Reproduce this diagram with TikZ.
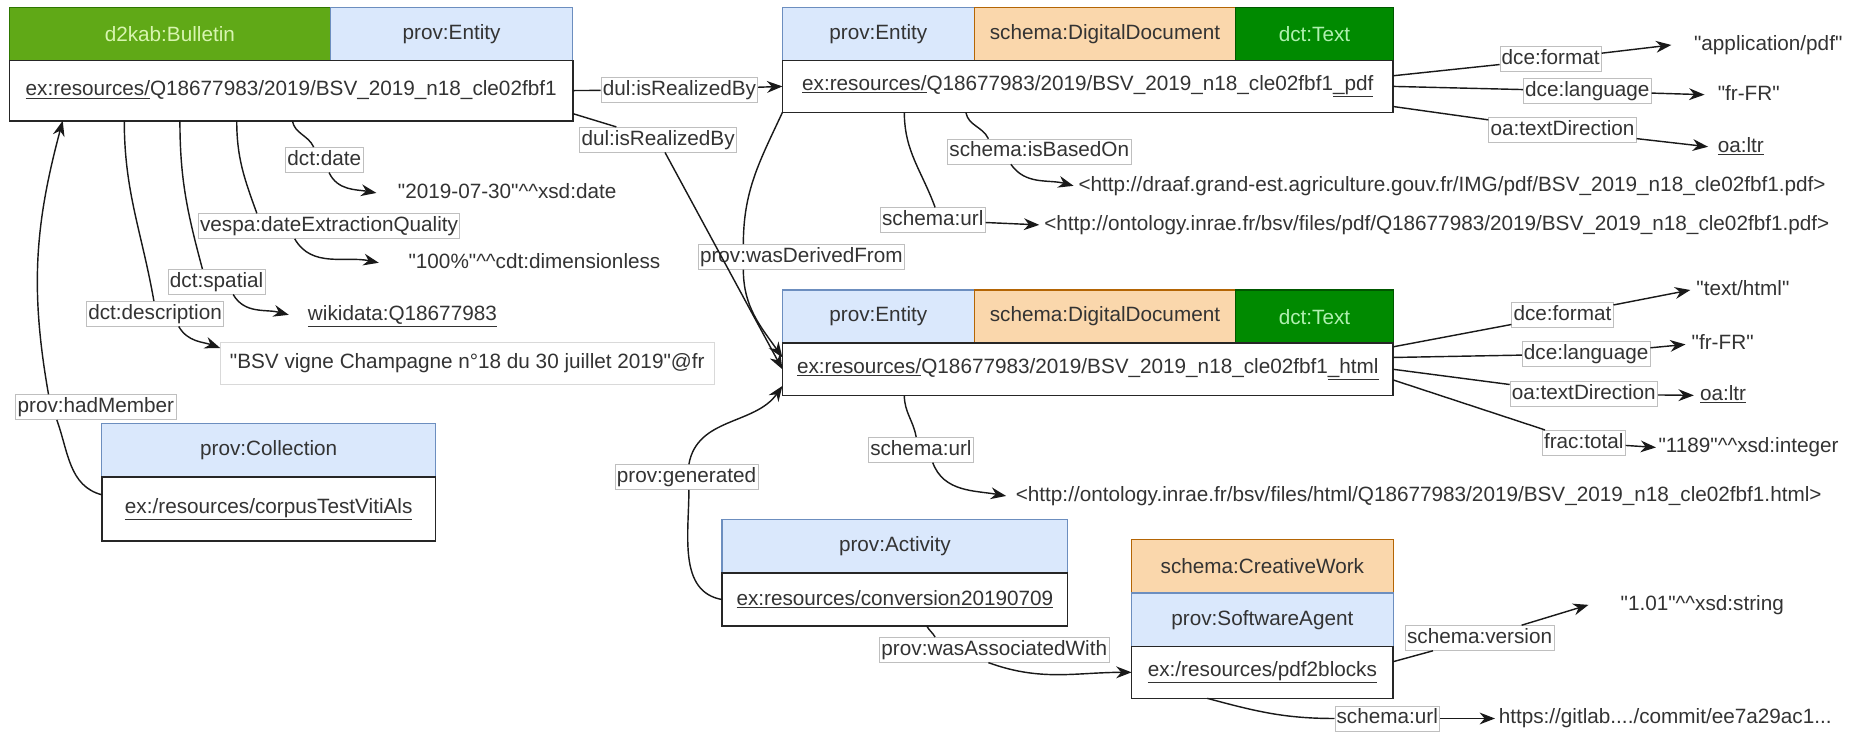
\documentclass[tikz,border=0pt]{standalone}
\usepackage{fontspec}
\setmainfont{Liberation Sans}[Ligatures=TeXOff]
\usepackage{tikz}
\usetikzlibrary{arrows.meta,positioning}
\definecolor{provfill}{HTML}{DAE8FC}
\definecolor{provline}{HTML}{6C8EBF}
\definecolor{schemafill}{HTML}{FAD7AC}
\definecolor{schemaline}{HTML}{B46504}
\definecolor{bulfill}{HTML}{60A917}
\definecolor{bulline}{HTML}{2D7600}
\definecolor{bultext}{HTML}{D8F5B0}
\definecolor{textfill}{HTML}{008A00}
\definecolor{textline}{HTML}{005700}
\definecolor{dcttext}{HTML}{B0F0B0}
\definecolor{ink}{HTML}{333333}
\newcommand{\dfont}{\fontsize{17.5}{21}\selectfont}
\newcommand{\dt}{\textasciicircum\textasciicircum}
\tikzset{>={Stealth[width=10pt,length=13pt]}}
\tikzset{every node/.style={font=\dfont, text=ink}}
\tikzset{cell/.style={draw, line width=1pt, inner sep=0pt, outer sep=0pt, minimum height=45pt}}
\tikzset{prov/.style={cell, fill=provfill, draw=provline}}
\tikzset{schema/.style={cell, fill=schemafill, draw=schemaline}}
\tikzset{bulletin/.style={cell, fill=bulfill, draw=bulline, text=bultext}}
\tikzset{dctext/.style={cell, fill=textfill, draw=textline, text=dcttext}}
\tikzset{body/.style={cell, fill=white, draw=black!85, line width=1.3pt, anchor=north west}}
\tikzset{lbl/.style={draw=black!25, fill=white, line width=0.6pt, inner xsep=1.5pt, inner ysep=2.5pt,
    text height=12.5pt, text depth=3.5pt}}
\tikzset{lit/.style={anchor=west, inner ysep=3pt, text height=12.5pt, text depth=3.5pt}}
\tikzset{rel/.style={line width=1.2pt, draw=black!90}}

\begin{document}
\begin{tikzpicture}[x=1pt, y=1pt]
    \useasboundingbox (0,0) rectangle (1568,-618);

    % bulletin
    \node(bulT)[bulletin, minimum width=271pt, anchor=north west] at (8,-6) {d2kab:Bulletin};
    \node(bulE)[prov, minimum width=205pt, right=0pt of bulT]            {prov:Entity};
    \node(bul)[body, minimum width=476pt, minimum height=51pt] at (bulT.south west)
        {\underline{ex:resources/}Q18677983/2019/BSV\_2019\_n18\_cle02fbf1};

    % pdf document
    \node(pdfE)[prov, minimum width=162pt, anchor=north west] at (661,-6) {prov:Entity};
    \node(pdfS)[schema, minimum width=221pt, right=0pt of pdfE]         {schema:DigitalDocument};
    \node(pdfT)[dctext, minimum width=133pt, right=0pt of pdfS]         {dct:Text};
    \node(pdf)[body, minimum width=516pt, minimum height=44pt] at (pdfE.south west)
        {\underline{ex:resources/}Q18677983/2019/BSV\_2019\_n18\_cle02fbf1\underline{\_pdf}};

    % html document
    \node(htmlE)[prov, minimum width=162pt, anchor=north west] at (661,-245) {prov:Entity};
    \node(htmlS)[schema, minimum width=221pt, right=0pt of htmlE]          {schema:DigitalDocument};
    \node(htmlT)[dctext, minimum width=133pt, right=0pt of htmlS]          {dct:Text};
    \node(html)[body, minimum width=516pt, minimum height=44pt] at (htmlE.south west)
        {\underline{ex:resources/}Q18677983/2019/BSV\_2019\_n18\_cle02fbf1\underline{\_html}};

    % collection, activity, agent
    \node(collT)[prov, minimum width=282pt, anchor=north west] at (86,-358) {prov:Collection};
    \node(coll)[body, minimum width=282pt, minimum height=54pt] at (collT.south west)
        {\underline{ex:/resources/corpusTestVitiAls}};
    \node(actT)[prov, minimum width=292pt, anchor=north west] at (610,-439) {prov:Activity};
    \node(act)[body, minimum width=292pt, minimum height=45pt] at (actT.south west)
        {\underline{ex:resources/conversion20190709}};
    \node(swC)[schema, minimum width=221pt, anchor=north west] at (956,-456) {schema:CreativeWork};
    \node(swA)[prov, minimum width=221pt, below=0pt of swC]               {prov:SoftwareAgent};
    \node(sw)[body, minimum width=221pt, minimum height=44pt] at (swA.south west)
        {\underline{ex:/resources/pdf2blocks}};

    % literals
    \node(litDate)[lit, inner xsep=18pt] at (318,-163)   {"2019-07-30"\dt xsd:date};
    \node(litQual)[lit, inner xsep=25pt] at (320,-222)   {"100\%"\dt cdt:dimensionless};
    \node(litWiki)[lit, inner xsep=16pt] at (244,-266)   {\underline{wikidata:Q18677983}};
    \node(desc)[draw=black!15, fill=white, line width=0.6pt, anchor=north west, inner sep=0pt,
        minimum width=417pt, minimum height=35pt] at (186,-289)
        {"BSV vigne Champagne n°18 du 30 juillet 2019"@fr};
    \node(litBased)[lit, inner xsep=4pt] at (907,-157)
        {<http://draaf.grand-est.agriculture.gouv.fr/IMG/pdf/BSV\_2019\_n18\_cle02fbf1.pdf>};
    \node(litUrlPdf)[lit, inner xsep=4pt] at (878,-190)
        {<http://ontology.inrae.fr/bsv/files/pdf/Q18677983/2019/BSV\_2019\_n18\_cle02fbf1.pdf>};
    \node(litFmtPdf)[lit, inner xsep=19pt] at (1412,-38)  {"application/pdf"};
    \node(litLangPdf)[lit, inner xsep=11pt] at (1440,-80) {"fr-FR"};
    \node(litDirPdf)[lit, inner xsep=8pt] at (1443,-124)  {\underline{oa:ltr}};
    \node(litFmtHtml)[lit, inner xsep=5pt] at (1428,-245) {"text/html"};
    \node(litLangHtml)[lit, inner xsep=5pt] at (1424,-291) {"fr-FR"};
    \node(litDirHtml)[lit, inner xsep=5pt] at (1431,-334) {\underline{oa:ltr}};
    \node(litTotal)[lit, inner xsep=2pt] at (1399,-378)   {"1189"\dt xsd:integer};
    \node(litUrlHtml)[lit, inner xsep=8pt] at (850,-419)
        {<http://ontology.inrae.fr/bsv/files/html/Q18677983/2019/BSV\_2019\_n18\_cle02fbf1.html>};
    \node(litVersion)[lit, inner xsep=27pt] at (1342,-511) {"1.01"\dt xsd:string};
    \node(litUrlSw)[lit, inner xsep=3pt] at (1263,-607)   {https://gitlab..../commit/ee7a29ac1...};

    % edge labels
    \node(lReal1)[lbl] at (574,-76)     {dul:isRealizedBy};
    \node(lReal2)[lbl] at (556,-118)    {dul:isRealizedBy};
    \node(lDate)[lbl] at (274,-135)     {dct:date};
    \node(lQual)[lbl] at (278,-191)     {vespa:dateExtractionQuality};
    \node(lSpat)[lbl] at (183,-238)     {dct:spatial};
    \node(lDesc)[lbl] at (131,-265)     {dct:description};
    \node(lMember)[lbl] at (81,-344)    {prov:hadMember};
    \node(lBased)[lbl] at (878,-128)    {schema:isBasedOn};
    \node(lUrlPdf)[lbl] at (788,-186)   {schema:url};
    \node(lDeriv)[lbl] at (677,-217)    {prov:wasDerivedFrom};
    \node(lFmtPdf)[lbl] at (1310,-50)   {dce:format};
    \node(lLangPdf)[lbl] at (1341,-77)  {dce:language};
    \node(lDirPdf)[lbl] at (1320,-110)  {oa:textDirection};
    \node(lFmtHtml)[lbl] at (1320,-266) {dce:format};
    \node(lLangHtml)[lbl] at (1340,-299) {dce:language};
    \node(lDirHtml)[lbl] at (1338,-333) {oa:textDirection};
    \node(lTotal)[lbl] at (1338,-374)   {frac:total};
    \node(lUrlHtml)[lbl] at (778,-380)  {schema:url};
    \node(lGen)[lbl] at (580,-403)      {prov:generated};
    \node(lAssoc)[lbl] at (840,-549)    {prov:wasAssociatedWith};
    \node(lVersion)[lbl] at (1250,-539) {schema:version};
    \node(lUrlSw)[lbl] at (1172,-607)   {schema:url};

    % bulletin edges
    \draw [rel] (bul.east) -- (lReal1);
    \draw [rel,->] (lReal1) -- (pdf.west);
    \draw [rel] ([yshift=6pt]bul.south east) -- (lReal2);
    \draw [rel,->] (lReal2) -- (html.west);
    \draw [rel] ([xshift=239pt]bul.south west) to [out=-80,in=115] ([xshift=-9pt]lDate.north);
    \draw [rel,->] ([xshift=4pt]lDate.south) to [out=-65,in=170] (litDate.west);
    \draw [rel] ([xshift=192pt]bul.south west) to [out=-90,in=110] ([xshift=-61pt]lQual.north);
    \draw [rel,->] ([xshift=-29pt]lQual.south) to [out=-60,in=168] (litQual.west);
    \draw [rel] ([xshift=144pt]bul.south west) to [out=-90,in=105] ([xshift=-12pt]lSpat.north);
    \draw [rel,->] ([xshift=14pt]lSpat.south) to [out=-60,in=165] (litWiki.west);
    \draw [rel] ([xshift=97pt]bul.south west) to [out=-90,in=100] ([xshift=-1pt]lDesc.north);
    \draw [rel,->] ([xshift=20pt]lDesc.south) to [out=-60,in=160] ([yshift=-5pt]desc.north west);
    \draw [rel] ([yshift=12pt]coll.west) to [out=165,in=-70] ([xshift=-33pt]lMember.south);
    \draw [rel,->] ([xshift=-40pt]lMember.north) to [out=100,in=-105] ([xshift=45pt]bul.south west);

    % pdf edges
    \draw [rel] ([xshift=155pt]pdf.south west) to [out=-80,in=115] ([xshift=-43pt]lBased.north);
    \draw [rel,->] ([xshift=-24pt]lBased.south) to [out=-55,in=165] (litBased.west);
    \draw [rel] ([xshift=103pt]pdf.south west) to [out=-90,in=110] ([xshift=2pt]lUrlPdf.north);
    \draw [rel,->] (lUrlPdf) -- (litUrlPdf.west);
    \draw [rel] (pdf.south west) to [out=-115,in=90] ([xshift=-49pt]lDeriv.north);
    \draw [rel,->] ([xshift=-49pt]lDeriv.south) to [out=-90,in=125] ([yshift=10pt]html.west);
    \draw [rel] ([yshift=9pt]pdf.east) -- (lFmtPdf);
    \draw [rel,->] (lFmtPdf) -- (litFmtPdf.west);
    \draw [rel] (pdf.east) -- (lLangPdf);
    \draw [rel,->] (lLangPdf) -- (litLangPdf.west);
    \draw [rel] ([yshift=-17pt]pdf.east) -- (lDirPdf);
    \draw [rel,->] (lDirPdf) -- (litDirPdf.west);

    % html edges
    \draw [rel] ([yshift=19pt]html.east) -- (lFmtHtml);
    \draw [rel,->] (lFmtHtml) -- (litFmtHtml.west);
    \draw [rel] ([yshift=10pt]html.east) -- (lLangHtml);
    \draw [rel,->] (lLangHtml) -- (litLangHtml.west);
    \draw [rel] (html.east) -- (lDirHtml);
    \draw [rel,->] (lDirHtml) -- (litDirHtml.west);
    \draw [rel] ([yshift=-9pt]html.east) -- (lTotal);
    \draw [rel,->] (lTotal) -- (litTotal.west);
    \draw [rel] ([xshift=103pt]html.south west) to [out=-90,in=100] ([xshift=-4pt]lUrlHtml.north);
    \draw [rel,->] ([xshift=10pt]lUrlHtml.south) to [out=-70,in=170] (litUrlHtml.west);

    % activity and agent edges
    \draw [rel] (act.west) to [out=170,in=-90] ([xshift=2pt]lGen.south);
    \draw [rel,->] ([xshift=2pt]lGen.north) to [out=80,in=-125] ([yshift=-14pt]html.west);
    \draw [rel] ([xshift=173pt]act.south west) to [out=-60,in=120] ([xshift=-50pt]lAssoc.north);
    \draw [rel,->] ([xshift=-5pt]lAssoc.south) to [out=-20,in=180] (sw.west);
    \draw [rel] ([yshift=9pt]sw.east) -- (lVersion);
    \draw [rel,->] (lVersion) -- (litVersion.west);
    \draw [rel] ([xshift=64pt]sw.south west) to [out=-15,in=180] (lUrlSw.west);
    \draw [rel,->] (lUrlSw) -- (litUrlSw.west);

\end{tikzpicture}
\end{document}
